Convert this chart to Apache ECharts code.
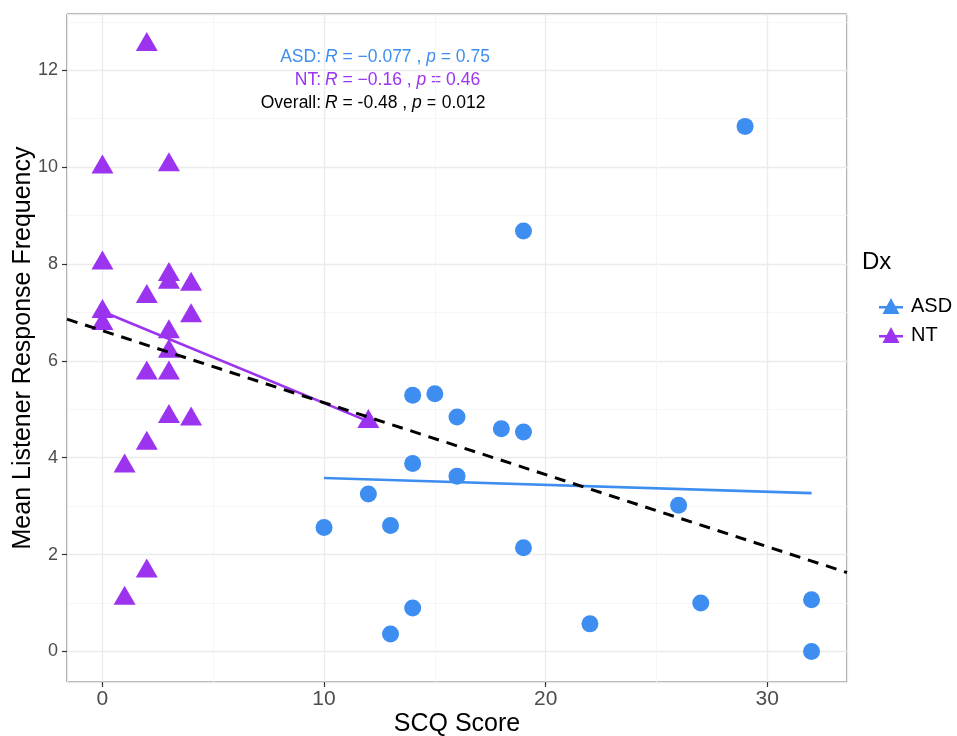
<!DOCTYPE html>
<html>
<head>
<meta charset="utf-8">
<script src="https://cdn.jsdelivr.net/npm/echarts@6/dist/echarts.min.js"></script>
<style>
html,body{margin:0;padding:0;background:#fff;}
#chart{width:957px;height:736px;}
</style>
</head>
<body>
<div id="chart"></div>
<script>
// ---- data ----
const asdX = [10, 12, 13, 13, 14, 14, 14, 15, 16, 16, 18, 19, 19, 19, 22, 26, 27, 29, 32, 32];
const asdY = [2.56, 3.25, 2.6, 0.36, 5.29, 3.88, 0.9, 5.32, 4.84, 3.62, 4.6, 4.53, 2.14, 8.68, 0.57, 3.02, 1.0, 10.84, 1.07, 0.0];
const ntX = [2, 0, 3, 0, 3, 3, 4, 2, 4, 0, 0, 3, 3, 2, 3, 3, 4, 2, 1, 2, 1, 12];
const ntY = [12.53, 10.0, 10.05, 8.02, 7.78, 7.62, 7.58, 7.33, 6.93, 7.02, 6.77, 6.6, 6.2, 5.75, 5.75, 4.85, 4.8, 4.3, 3.83, 1.66, 1.1, 4.75];
// fitted lines (end points)
const asdFitX = [10, 32];
const asdFitY = [3.58, 3.27];
const ntFitX = [0, 12];
const ntFitY = [7.02, 4.75];
const allFitX = [-1.6, 33.6];
const allFitY = [6.86, 1.63];
// axis ranges
const xRange = [-1.6, 33.6];
const yRange = [-0.63, 13.16];
// annotation text
const statLabels = ['ASD:', 'NT:', 'Overall:'];
const statR = ['\u22120.077', '\u22120.16', '-0.48'];
const statP = ['0.75', '0.46', '0.012'];

const BLUE = '#3d8ef0';
const PURPLE = '#9b33ef';
const FONT = '"Liberation Sans", Arial, Helvetica, sans-serif';

const zip = (xs, ys) => xs.map((x, i) => [x, ys[i]]);

const chart = echarts.init(document.getElementById('chart'), null, {renderer: 'canvas'});

const statColors = [BLUE, PURPLE, '#000000'];
const FS = 17.5;
const graphics = [];
statLabels.forEach((lab, i) => {
  const y = 57 + i * 23;
  graphics.push({
    type: 'text', x: 321, y: y,
    style: {text: lab, fill: statColors[i], font: FS + 'px ' + FONT, textAlign: 'right', textVerticalAlign: 'middle'}
  });
  graphics.push({
    type: 'text', x: 325, y: y,
    style: {
      text: '{i|R}{n| = ' + statR[i] + ' , }{i|p}{n| = ' + statP[i] + '}',
      textVerticalAlign: 'middle', textAlign: 'left',
      rich: {
        i: {fontStyle: 'italic', fontSize: FS, fontFamily: FONT, fill: statColors[i]},
        n: {fontSize: FS, fontFamily: FONT, fill: statColors[i]}
      }
    }
  });
});
graphics.push({
  type: 'text', x: 862, y: 262,
  style: {text: 'Dx', font: '24px ' + FONT, fill: '#000', textVerticalAlign: 'middle'}
});

const legendIcon = 'path://M0,9L24,9L24,11.5L0,11.5Z M12,1L20.5,17L3.5,17Z';

const option = {
  animation: false,
  backgroundColor: '#ffffff',
  grid: {left: 67, right: 110, top: 14, bottom: 54, show: true, borderColor: '#555', borderWidth: 1,
         containLabel: false, outerBoundsMode: 'none'},
  xAxis: {
    type: 'value', min: xRange[0], max: xRange[1], splitNumber: 4,
    name: 'SCQ Score', nameLocation: 'middle', nameGap: 30, nameMoveOverlap: false,
    nameTextStyle: {fontSize: 25, color: '#000', fontFamily: FONT},
    axisLine: {show: false, onZero: false},
    axisTick: {show: true, length: 5, lineStyle: {color: '#333', width: 1.2}},
    axisLabel: {fontSize: 21, color: '#4d4d4d', fontFamily: FONT, margin: 7, showMinLabel: false, showMaxLabel: false},
    splitLine: {show: true, lineStyle: {color: '#ebebeb', width: 1.3}},
    minorTick: {show: false, splitNumber: 2},
    minorSplitLine: {show: true, lineStyle: {color: '#f4f4f4', width: 0.8}}
  },
  yAxis: {
    type: 'value', min: yRange[0], max: yRange[1], splitNumber: 7,
    name: 'Mean Listener Response Frequency', nameLocation: 'middle', nameGap: 31, nameRotate: 90,
    nameMoveOverlap: false,
    nameTextStyle: {fontSize: 25, color: '#000', fontFamily: FONT},
    axisLine: {show: false, onZero: false},
    axisTick: {show: true, length: 5, lineStyle: {color: '#333', width: 1.2}},
    axisLabel: {fontSize: 18, color: '#4d4d4d', fontFamily: FONT, margin: 9, showMinLabel: false, showMaxLabel: false},
    splitLine: {show: true, lineStyle: {color: '#ebebeb', width: 1.3}},
    minorTick: {show: false, splitNumber: 2},
    minorSplitLine: {show: true, lineStyle: {color: '#f4f4f4', width: 0.8}}
  },
  legend: {
    data: ['ASD', 'NT'], orient: 'vertical', left: 874, top: 291,
    itemWidth: 24, itemHeight: 18, itemGap: 9, icon: legendIcon,
    textStyle: {fontSize: 20, color: '#000', fontFamily: FONT, padding: [0, 0, 0, 3]}
  },
  graphic: graphics,
  series: [
    {
      name: 'ASD', type: 'scatter', data: zip(asdX, asdY), symbol: 'circle', symbolSize: 17,
      itemStyle: {color: BLUE, opacity: 1}, z: 2
    },
    {
      name: 'NT', type: 'scatter', data: zip(ntX, ntY), symbol: 'triangle', symbolSize: [22, 19],
      symbolOffset: [0, -3], itemStyle: {color: PURPLE, opacity: 1}, z: 2
    },
    {
      name: 'ASD fit', type: 'line', data: zip(asdFitX, asdFitY), symbol: 'none',
      lineStyle: {color: BLUE, width: 2.6}, z: 3, silent: true
    },
    {
      name: 'NT fit', type: 'line', data: zip(ntFitX, ntFitY), symbol: 'none',
      lineStyle: {color: PURPLE, width: 2.6}, z: 3, silent: true
    },
    {
      name: 'Overall fit', type: 'line', data: zip(allFitX, allFitY), symbol: 'none',
      lineStyle: {color: '#000', width: 3, type: [11, 8]}, z: 4, silent: true
    }
  ]
};
chart.setOption(option);
</script>
</body>
</html>
